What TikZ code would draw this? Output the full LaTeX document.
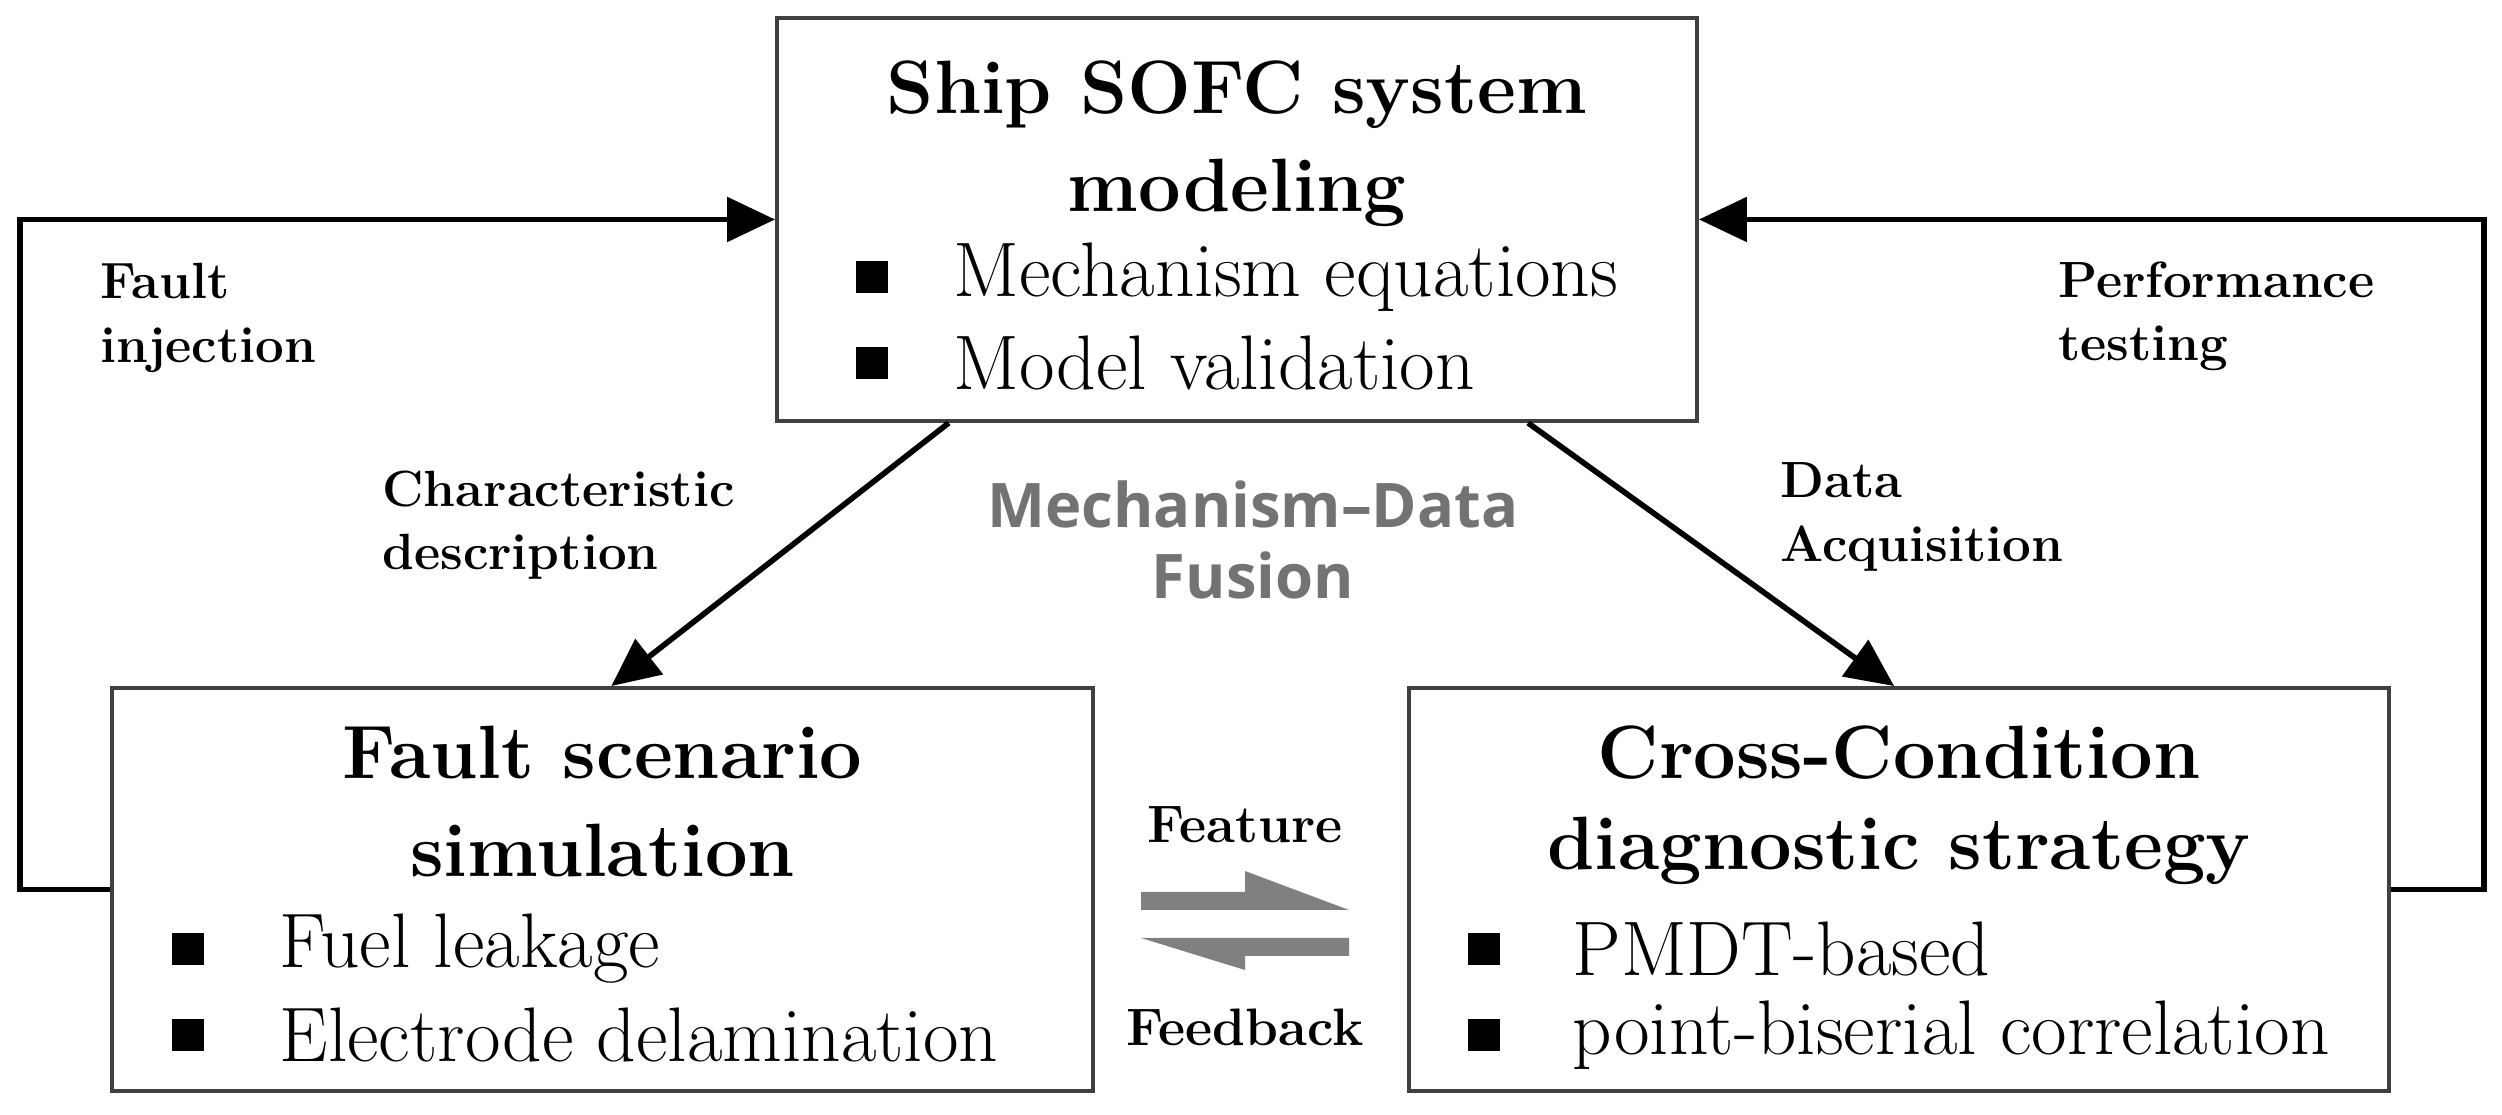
\documentclass[tikz,border=0pt]{standalone}
\usepackage{fontspec}
\newfontfamily\fusionfont{Open Sans}
\usetikzlibrary{arrows.meta,calc}

\begin{document}
\begin{tikzpicture}[box/.style={rectangle, draw=black!75, line width=1.1pt, minimum height=4.03cm},
  title/.style={font=\fontsize{21.5}{24}\selectfont\bfseries},
  item/.style={anchor=west, font=\fontsize{22}{24}\selectfont, inner sep=0pt},
  bullet/.style={fill=black, minimum size=3.2mm, inner sep=0pt},
  label/.style={align=left, anchor=west, font=\fontsize{14.5}{18}\selectfont\bfseries},
  link/.style={line width=1.6pt, -{Triangle[length=4.8mm,width=4.4mm]}},
  swap/.style={fill=black!50, draw=none}]
  \useasboundingbox (0,0) rectangle (25.02,11.15);
  {
  % boxes
  \node[box, minimum width=9.2cm] (model) at (12.37,8.955) {};
  \node[box, minimum width=9.81cm] (fault) at (6.025,2.255) {};
  \node[box, minimum width=9.8cm] (diag) at (18.99,2.255) {};

  % top box text
  \node[title] (modelT1) at (12.37,10.20) {Ship SOFC system};
  \node[title] (modelT2) at (12.37,9.22) {modeling};
  \node[bullet] (mb1) at (8.72,8.38) {};
  \node[item] (mi1) at (9.53,8.38) {Mechanism equations};
  \node[bullet] (mb2) at (8.72,7.52) {};
  \node[item] (mi2) at (9.53,7.52) {Model validation};

  % left box text
  \node[title] (faultT1) at (6.025,3.62) {Fault scenario};
  \node[title] (faultT2) at (6.025,2.64) {simulation};
  \node[bullet] (fb1) at (1.88,1.66) {};
  \node[item] (fi1) at (2.79,1.66) {Fuel leakage};
  \node[bullet] (fb2) at (1.88,0.80) {};
  \node[item] (fi2) at (2.79,0.80) {Electrode delamination};

  % right box text
  \node[title] (diagT1) at (18.99,3.62) {Cross-Condition};
  \node[title] (diagT2) at (18.99,2.64) {diagnostic strategy};
  \node[bullet] (db1) at (14.84,1.66) {};
  \node[item] (di1) at (15.72,1.66) {PMDT-based};
  \node[bullet] (db2) at (14.84,0.80) {};
  \node[item] (di2) at (15.72,0.80) {point-biserial correlation};

  % labels
  \node[label] (inj) at (0.88,7.97) {Fault\\injection};
  \node[label] (test) at (20.46,7.99) {Performance\\testing};
  \node[label] (char) at (3.70,5.90) {Characteristic\\description};
  \node[label] (acq) at (17.68,5.98) {Data\\Acquisition};
  \node[align=center, text=black!55, font=\fusionfont\fontsize{17.5}{20}\selectfont\bfseries] (fusion) at (12.53,5.75) {Mechanism–Data\\Fusion};
  \node[font=\fontsize{15}{17}\selectfont\bfseries] (feat) at (12.45,2.90) {Feature};
  \node[font=\fontsize{15}{17}\selectfont\bfseries] (feed) at (12.45,0.88) {Feedback};

  % connectors
  \draw[link] (fault.west) -- ++(-0.9,0) |- (model.west);
  \draw[link] (diag.east) -- ++(0.93,0) |- (model.east);
  \draw[link] ($(model.south west)!0.188!(model.south east)$) -- ($(fault.north west)!0.509!(fault.north east)$);
  \draw[link] ($(model.south west)!0.815!(model.south east)$) -- ($(diag.north west)!0.495!(diag.north east)$);

  % exchange arrows
  \fill[swap] (11.41,2.05) -- (13.49,2.05) -- (12.45,2.44) -- (12.45,2.23) -- (11.41,2.23) -- cycle;
  \fill[swap] (13.49,1.77) -- (11.41,1.77) -- (12.45,1.45) -- (12.45,1.59) -- (13.49,1.59) -- cycle;
  }
\end{tikzpicture}
\end{document}
